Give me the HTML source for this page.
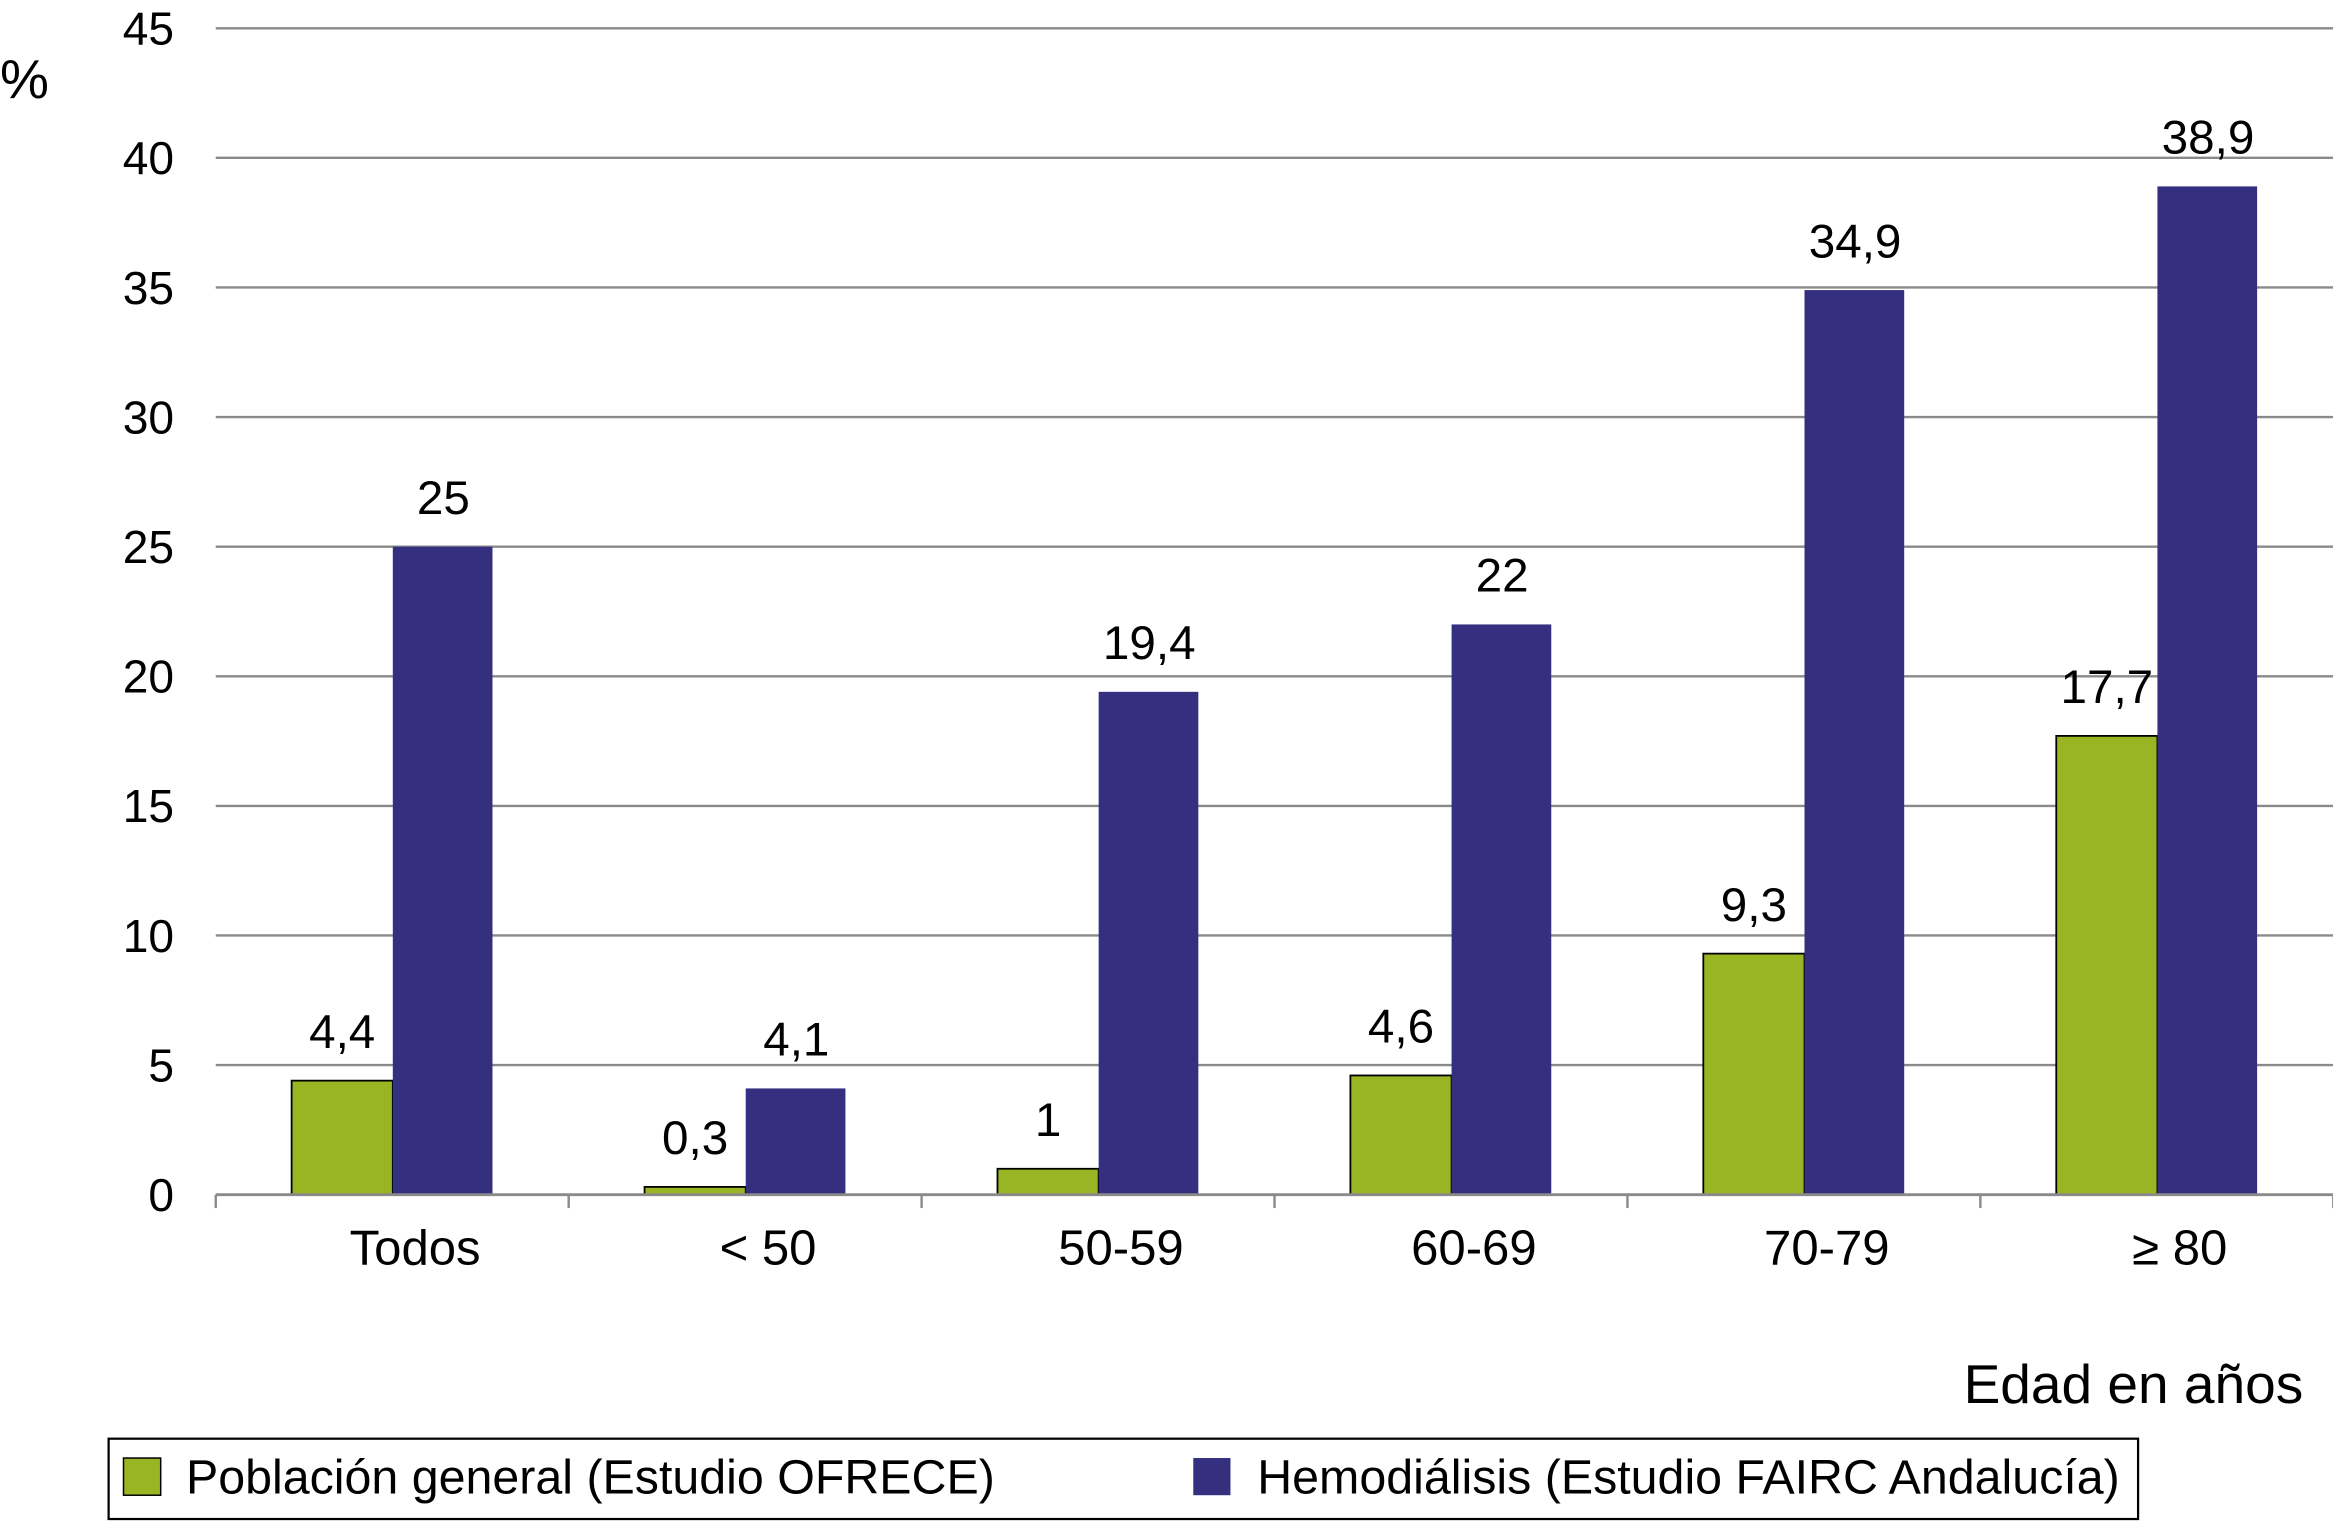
<!DOCTYPE html>
<html><head><meta charset="utf-8"><style>
html,body{margin:0;padding:0;background:#fff;}
svg{display:block;font-family:"Liberation Sans",sans-serif;}
</style></head><body>
<svg id="chart" width="2333" height="1522" viewBox="0 0 1568 1023" preserveAspectRatio="none" xmlns="http://www.w3.org/2000/svg">
<g id="grid"></g>
<g id="bars"></g>
<g id="axes"></g>
<text x="0" y="66" font-size="37">%</text>
<text x="1548" y="943" font-size="37" text-anchor="end">Edad en años</text>
<g>
<rect x="73" y="967" width="1364" height="54" fill="none" stroke="#000" stroke-width="1.5"/>
<rect x="83" y="980" width="25" height="25" fill="#9ab524" stroke="#000" stroke-width="1"/>
<text x="125" y="1004" font-size="32.5">Población general (Estudio OFRECE)</text>
<rect x="802" y="980" width="25" height="25" fill="#34307f"/>
<text x="845" y="1004" font-size="32.5">Hemodiálisis (Estudio FAIRC Andalucía)</text>
</g>
</svg>
<script>
const categories = ["Todos", "< 50", "50-59", "60-69", "70-79", "\u2265 80"];
const generalValues = [4.4, 0.3, 1, 4.6, 9.3, 17.7];
const hemoValues = [25, 4.1, 19.4, 22, 34.9, 38.9];
const generalLabels = ["4,4", "0,3", "1", "4,6", "9,3", "17,7"];
const hemoLabels = ["25", "4,1", "19,4", "22", "34,9", "38,9"];
const yTicks = [0, 5, 10, 15, 20, 25, 30, 35, 40, 45];

const NS = "http://www.w3.org/2000/svg";
const x0 = 145, x1 = 1568, yBase = 803, yTop = 19, yMax = 45;
const catW = 237.2, barW = 68, offset = 51;
function y(v){ return yBase - (v / yMax) * (yBase - yTop); }
function xCat(i){ return x0 + i * catW; }
function mk(tag, attrs, parent){
  const el = document.createElementNS(NS, tag);
  for (const k in attrs) el.setAttribute(k, attrs[k]);
  parent.appendChild(el);
  return el;
}
const grid = document.getElementById("grid");
const bars = document.getElementById("bars");
const axes = document.getElementById("axes");

yTicks.forEach(t => {
  if (t > 0) {
    const l = mk("line", {x1: x0, x2: x1, y1: y(t), y2: y(t), stroke: "#8a8a8a", "stroke-width": 1.6}, grid);
    
    
  }
  const tx = mk("text", {x: 117, y: y(t) + 11, "font-size": 31, "text-anchor": "end"}, axes);
  tx.textContent = t;
  
  
});

const axis = mk("line", {x1: x0, x2: x1, y1: yBase, y2: yBase, stroke: "#8a8a8a", "stroke-width": 2}, axes);


for (let i = 0; i <= categories.length; i++) {
  const tk = mk("line", {x1: xCat(i), x2: xCat(i), y1: yBase, y2: yBase + 9, stroke: "#8a8a8a", "stroke-width": 1.6}, axes);
  
  
}

categories.forEach((c, i) => {
  const gx = xCat(i) + offset;
  const g = mk("rect", {x: gx, y: y(generalValues[i]), width: barW, height: yBase - y(generalValues[i]), fill: "#9ab524", stroke: "#000", "stroke-width": 1.2}, bars);
  
  
  const h = mk("rect", {x: gx + barW, y: y(hemoValues[i]), width: barW - 1, height: yBase - y(hemoValues[i]), fill: "#34307f"}, bars);
  
  
  const gl = mk("text", {x: gx + barW / 2, y: y(generalValues[i]) - 22, "font-size": 32, "text-anchor": "middle"}, bars);
  gl.textContent = generalLabels[i];
  
  
  const hl = mk("text", {x: gx + barW * 1.5, y: y(hemoValues[i]) - 22, "font-size": 32, "text-anchor": "middle"}, bars);
  hl.textContent = hemoLabels[i];
  
  
  const cl = mk("text", {x: gx + barW + 15, y: 850, "font-size": 33, "text-anchor": "middle"}, axes);
  cl.textContent = c;
  
  
});
</script>
</body></html>
